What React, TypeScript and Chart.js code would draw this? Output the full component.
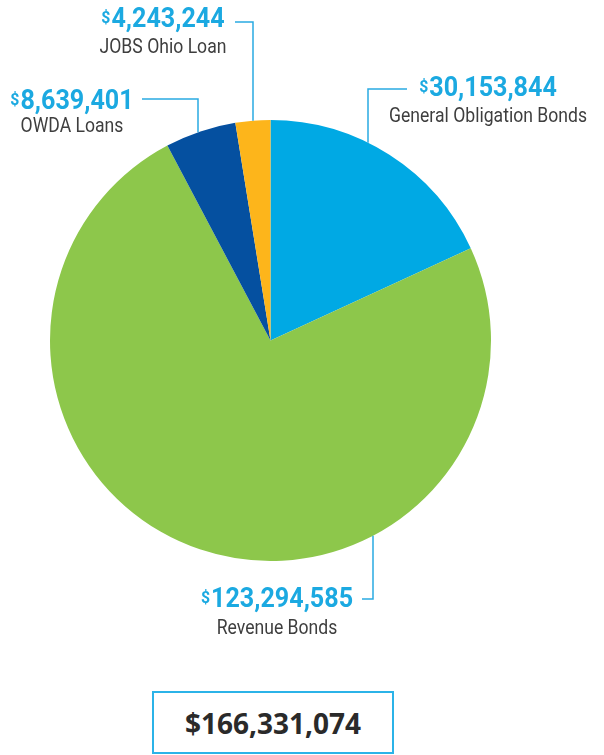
import React, { useEffect, useRef } from "react";
import { Chart, registerables } from "chart.js";

Chart.register(...registerables);

const categories = ["General Obligation Bonds", "Revenue Bonds", "OWDA Loans", "JOBS Ohio Loan"];
const amounts = [30153844, 123294585, 8639401, 4243244];
const sliceColors = ["#00A9E4", "#8DC74B", "#0550A0", "#FDB51B"];
const totalAmount = amounts.reduce((a, b) => a + b, 0);

// label placement: text center x, number baseline y, label baseline y, leader line path
const labelLayout = [
  { cx: 488, ny: 96, ly: 122, lineY: 89, x1: 407, x2: 368, edge: "top" },
  { cx: 277, ny: 607, ly: 634, lineY: 599, x1: 362, x2: 373, edge: "bottom" },
  { cx: 72, ny: 109, ly: 132, lineY: 99, x1: 142, x2: 198, edge: "top" },
  { cx: 163, ny: 27, ly: 53, lineY: 22, x1: 235, x2: 253, edge: "top" },
];

const fmt = (n: number) => n.toLocaleString("en-US");

const labelsPlugin = {
  id: "leaderLabels",
  afterDraw(chart: any) {
    const ctx = chart.ctx as CanvasRenderingContext2D;
    const arc = chart.getDatasetMeta(0).data[0] as any;
    const cx = arc.x;
    const cy = arc.y;
    const r = arc.outerRadius;
    ctx.save();
    labelLayout.forEach((L, i) => {
      const dx = L.x2 - cx;
      const dy = Math.sqrt(Math.max(0, r * r - dx * dx));
      const ey = L.edge === "top" ? cy - dy : cy + dy;
      ctx.strokeStyle = "#2AABE2";
      ctx.lineWidth = 1.5;
      ctx.beginPath();
      ctx.moveTo(L.x1, L.lineY);
      ctx.lineTo(L.x2, L.lineY);
      ctx.lineTo(L.x2, ey);
      ctx.stroke();

      const sx = 0.93;
      const digits = fmt(amounts[i]);
      ctx.textAlign = "left";
      ctx.textBaseline = "alphabetic";
      ctx.font = "bold 17px Roboto";
      const wd = ctx.measureText("$").width * sx + 1;
      ctx.font = "bold 27px Roboto";
      const wn = ctx.measureText(digits).width * sx;
      const start = L.cx - (wd + wn) / 2;
      ctx.fillStyle = "#1BA9E1";
      ctx.save();
      ctx.translate(start, L.ny - 4);
      ctx.scale(sx, 1);
      ctx.font = "bold 17px Roboto";
      ctx.fillText("$", 0, 0);
      ctx.restore();
      ctx.save();
      ctx.translate(start + wd, L.ny);
      ctx.scale(sx, 1);
      ctx.font = "bold 27px Roboto";
      ctx.fillText(digits, 0, 0);
      ctx.restore();

      const lsx = 0.88;
      ctx.font = "20px Roboto";
      ctx.fillStyle = "#3E3E3E";
      const wl = ctx.measureText(categories[i]).width * lsx;
      ctx.save();
      ctx.translate(L.cx - wl / 2, L.ly);
      ctx.scale(lsx, 1);
      ctx.fillText(categories[i], 0, 0);
      ctx.restore();
    });
    ctx.restore();
  },
};

export default function App() {
  const ref = useRef<HTMLCanvasElement>(null);
  useEffect(() => {
    if (!ref.current) return;
    const chart = new Chart(ref.current, {
      type: "pie",
      data: {
        labels: categories,
        datasets: [
          {
            data: amounts,
            backgroundColor: sliceColors,
            borderWidth: 0,
          },
        ],
      },
      options: {
        responsive: false,
        maintainAspectRatio: false,
        animation: false,
        layout: { padding: { left: 50, right: 113, top: 120, bottom: 119 } },
        plugins: { legend: { display: false }, tooltip: { enabled: false } },
      },
      plugins: [labelsPlugin],
    });
    return () => chart.destroy();
  }, []);
  return (
    <div style={{ position: "absolute", left: 0, top: 0, width: 604, height: 755, background: "#fff" }}>
      <canvas ref={ref} width={604} height={680} style={{ display: "block", width: 604, height: 680 }} />
      <div
        style={{
          position: "absolute",
          left: 152,
          top: 691,
          width: 242,
          height: 63,
          boxSizing: "border-box",
          border: "2px solid #2BB3E8",
          display: "flex",
          alignItems: "center",
          justifyContent: "center",
          fontFamily: "'Open Sans', sans-serif",
          fontWeight: 700,
          fontSize: 28,
          color: "#2A2A2A",
        }}
      >
        {"$" + fmt(totalAmount)}
      </div>
    </div>
  );
}
